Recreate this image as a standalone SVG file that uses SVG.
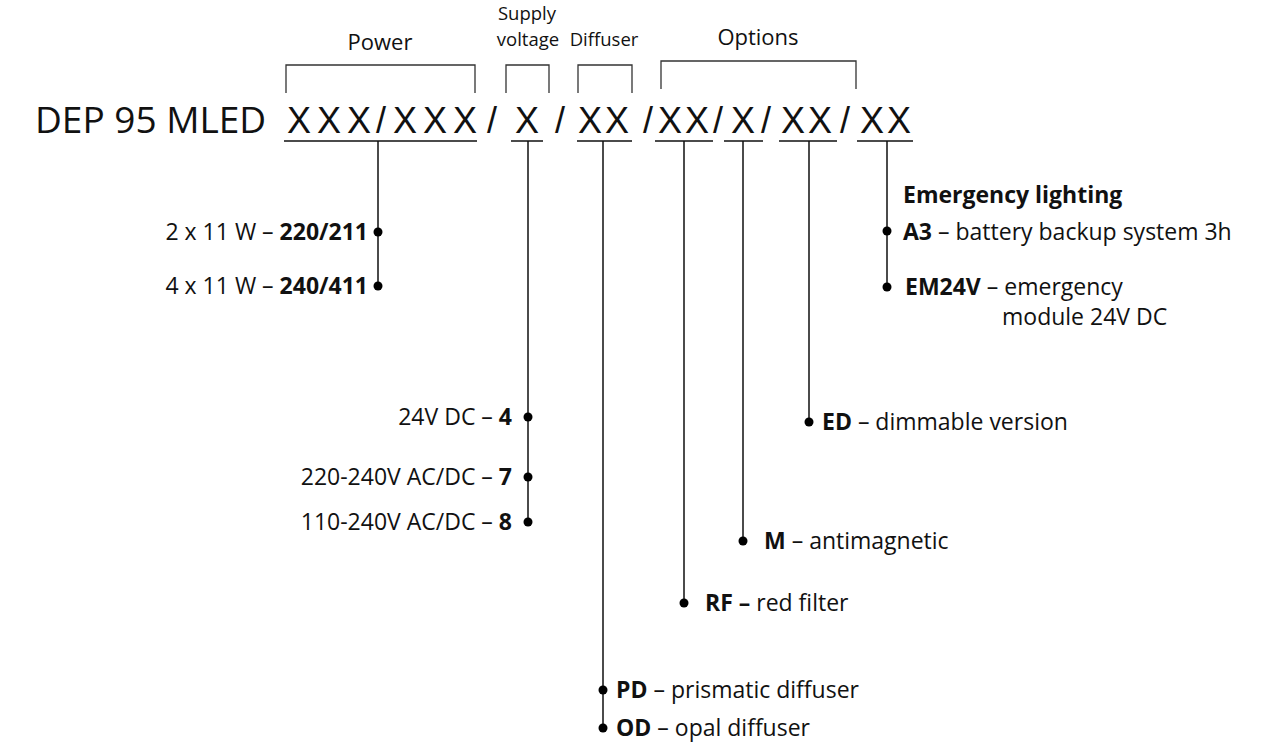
<svg xmlns="http://www.w3.org/2000/svg" width="1270" height="745" viewBox="0 0 1270 745">
<style>
text{font-family:"Open Sans","DejaVu Sans",sans-serif;fill:#111}
.t{font-size:23px}
.h{font-size:22px}
.hs{font-size:18.5px}
.m{font-size:37px}
.x{font-family:"Liberation Sans",Arial,sans-serif;font-size:36px}
.b{font-weight:bold}
.ln{stroke:#111;stroke-width:1.5;fill:none}
.br{stroke:#333;stroke-width:1.3;fill:none}
.ul{stroke:#111;stroke-width:1.3}
.dot{fill:#000}
</style>
<rect width="1270" height="745" fill="#fff"/>
<g id="headers">
<text class="h" x="380" y="50" text-anchor="middle">Power</text>
<text class="hs" x="527" y="20" text-anchor="middle">Supply</text>
<text class="hs" x="528" y="46" text-anchor="middle">voltage</text>
<text class="hs" x="604" y="46" text-anchor="middle">Diffuser</text>
<text class="h" x="758" y="45" text-anchor="middle">Options</text>
<path class="br" d="M286,93V65H475V93M506,93V65H549V93M578,93V65H632V93M661,89V61H856V89"/>
</g>
<g id="code">
<text class="m" x="35" y="133">DEP 95 MLED</text>
<text class="x" y="133" x="287 317 347 376 393 423 453">XXX/XXX</text>
<text class="x" y="133" x="487">/</text>
<text class="x" y="133" x="515">X</text>
<text class="x" y="133" x="555">/</text>
<text class="x" y="133" x="578 605">XX</text>
<text class="x" y="133" x="643">/</text>
<text class="x" y="133" x="658 685">XX</text>
<text class="x" y="133" x="713">/</text>
<text class="x" y="133" x="731">X</text>
<text class="x" y="133" x="761">/</text>
<text class="x" y="133" x="781 808">XX</text>
<text class="x" y="133" x="840">/</text>
<text class="x" y="133" x="860 887">XX</text>
<path class="ul" d="M284,141H477M511,141H543M577,141H632M655,141H713M724,141H763M779,141H837M857,141H913"/>
</g>
<g id="connectors">
<path class="ln" d="M378,141V286M528,141V522M603,141V728M684,141V603M743,141V541M809,141V422M887,141V287"/>
</g>
<g id="power-options">
<circle class="dot" cx="378" cy="232" r="4.5"/>
<circle class="dot" cx="378" cy="286" r="4.5"/>
<text class="t" x="368" y="240" text-anchor="end">2 x 11 W – <tspan class="b">220/211</tspan></text>
<text class="t" x="368" y="294" text-anchor="end">4 x 11 W – <tspan class="b">240/411</tspan></text>
</g>
<g id="supply-options">
<circle class="dot" cx="528" cy="417" r="4.5"/>
<circle class="dot" cx="528" cy="477" r="4.5"/>
<circle class="dot" cx="528" cy="522" r="4.5"/>
<text class="t" x="512" y="425" text-anchor="end">24V DC – <tspan class="b">4</tspan></text>
<text class="t" x="512" y="485" text-anchor="end">220-240V AC/DC – <tspan class="b">7</tspan></text>
<text class="t" x="512" y="530" text-anchor="end">110-240V AC/DC – <tspan class="b">8</tspan></text>
</g>
<g id="diffuser-options">
<circle class="dot" cx="603" cy="690" r="4.5"/>
<circle class="dot" cx="603" cy="728" r="4.5"/>
<text class="t" x="616" y="698"><tspan class="b">PD</tspan> – prismatic diffuser</text>
<text class="t" x="616" y="736"><tspan class="b">OD</tspan> – opal diffuser</text>
</g>
<g id="rf-option">
<circle class="dot" cx="684" cy="603" r="4.5"/>
<text class="t" x="705" y="611"><tspan class="b">RF –</tspan> red filter</text>
</g>
<g id="m-option">
<circle class="dot" cx="743" cy="541" r="4.5"/>
<text class="t" x="764" y="549"><tspan class="b">M</tspan> – antimagnetic</text>
</g>
<g id="ed-option">
<circle class="dot" cx="809" cy="422" r="4.5"/>
<text class="t" x="822" y="430"><tspan class="b">ED</tspan> – dimmable version</text>
</g>
<g id="emergency-options">
<text class="t b" x="903" y="203">Emergency lighting</text>
<circle class="dot" cx="887" cy="231" r="4.5"/>
<circle class="dot" cx="887" cy="287" r="4.5"/>
<text class="t" x="903" y="240"><tspan class="b">A3</tspan> – battery backup system 3h</text>
<text class="t" x="905" y="295"><tspan class="b">EM24V</tspan> – emergency</text>
<text class="t" x="1002" y="325">module 24V DC</text>
</g>
</svg>
